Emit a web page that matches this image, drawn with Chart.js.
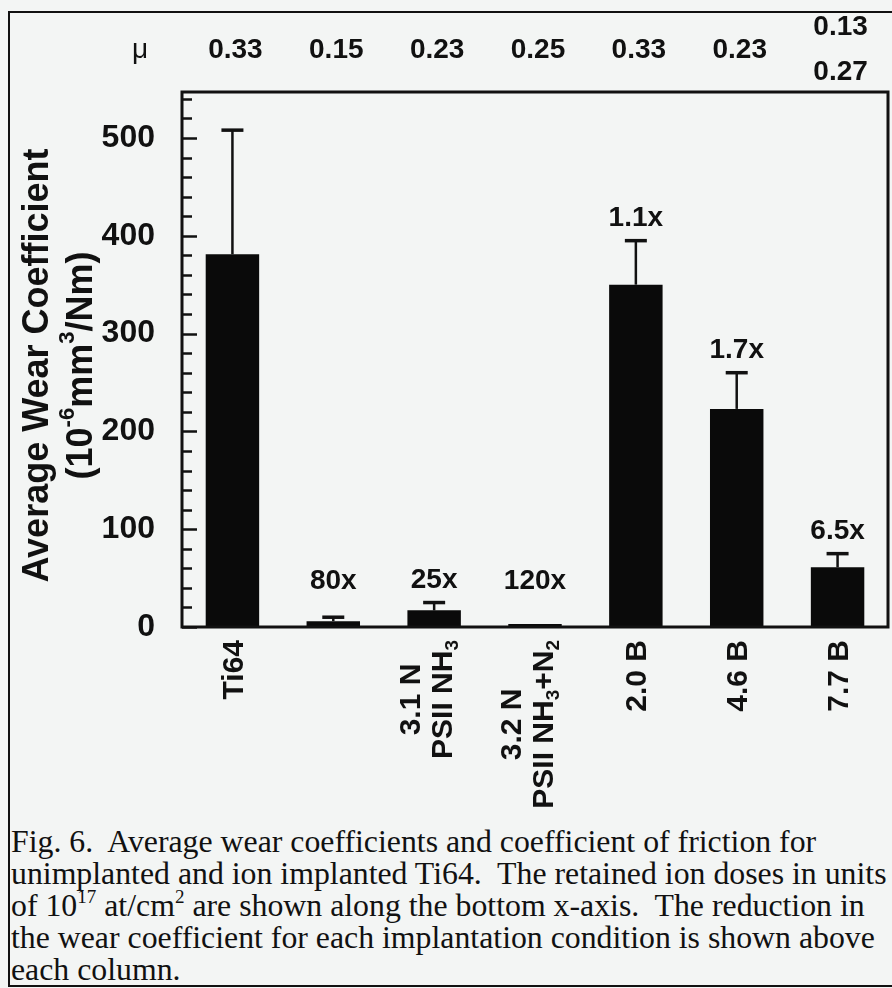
<!DOCTYPE html>
<html>
<head>
<meta charset="utf-8">
<script src="https://cdn.jsdelivr.net/npm/chart.js@4.4.1/dist/chart.umd.min.js"></script>
<style>
  body { margin: 0; background: #f3f5f4; width: 892px; height: 988px; overflow: hidden; position: relative; }
  #box { position: absolute; left: 8px; top: 11px; width: 900px; height: 972px; border: 2px solid #111; border-right: none; }
  #chart { position: absolute; left: 0; top: 0; }
  #caption { position: absolute; left: 11px; top: 826px; font-family: "Liberation Serif", serif; font-size: 31.8px; line-height: 32px; color: #111; white-space: pre; }
  #caption sup { font-size: 0.6em; line-height: 0; vertical-align: 0.7em; }
</style>
</head>
<body>
<div id="box"></div>
<canvas id="chart" width="892" height="815"></canvas>
<div id="caption">Fig. 6.  Average wear coefficients and coefficient of friction for
unimplanted and ion implanted Ti64.  The retained ion doses in units
of 10<sup>17</sup> at/cm<sup>2</sup> are shown along the bottom x-axis.  The reduction in
the wear coefficient for each implantation condition is shown above
each column.</div>
<script>
// bottom labels, one entry per column, lines stacked; _{..} = subscript
const categoryLines = [
  ["Ti64"],
  [""],
  ["3.1 N", "PSII NH_{3}"],
  ["3.2 N", "PSII NH_{3}+N_{2}"],
  ["2.0 B"],
  ["4.6 B"],
  ["7.7 B"],
];
const wearValues = [381, 6, 17, 3, 350, 223, 61];
const errorTops = [508, 10, 25, null, 395, 260, 75];
const reductionLabels = ["", "80x", "25x", "120x", "1.1x", "1.7x", "6.5x"];
const frictionValues = [[0.33], [0.15], [0.23], [0.25], [0.33], [0.23], [0.13, 0.27]];
const yTitleLines = ["Average Wear Coefficient", "(10^{-6}mm^{3}/Nm)"];

const SANS = '"Liberation Sans", Arial, sans-serif';
const INK = "#111";

// split "NH_{3}" / "10^{-6}" into runs
function splitRuns(str) {
  const runs = [];
  const re = /([_^])\{([^}]*)\}/g;
  let last = 0;
  let m;
  while ((m = re.exec(str)) !== null) {
    if (m.index > last) runs.push({ text: str.slice(last, m.index), shift: 0 });
    runs.push({ text: m[2], shift: m[1] === "_" ? 1 : -1 });
    last = re.lastIndex;
  }
  if (last < str.length) runs.push({ text: str.slice(last), shift: 0 });
  return runs;
}

function runFont(size, shift) {
  return "bold " + (shift ? Math.round(size * 0.62) : size) + "px " + SANS;
}

function richWidth(ctx, str, size) {
  let w = 0;
  for (const r of splitRuns(str)) {
    ctx.font = runFont(size, r.shift);
    w += ctx.measureText(r.text).width;
  }
  return w;
}

// draws centred on (x, y) in the current transform
function drawRich(ctx, str, x, y, size) {
  const runs = splitRuns(str);
  let cx = x - richWidth(ctx, str, size) / 2;
  ctx.textAlign = "left";
  ctx.textBaseline = "middle";
  for (const r of runs) {
    ctx.font = runFont(size, r.shift);
    const dy = r.shift === 1 ? size * 0.3 : r.shift === -1 ? -size * 0.38 : 0;
    ctx.fillText(r.text, cx, y + dy);
    cx += ctx.measureText(r.text).width;
  }
}

const figurePlugin = {
  id: "figure",
  afterDatasetsDraw(chart) {
    const { ctx, chartArea: a } = chart;
    const x = chart.scales.x;
    const y = chart.scales.y;
    const bars = chart.getDatasetMeta(0).data;
    ctx.save();
    ctx.fillStyle = INK;
    ctx.strokeStyle = INK;

    // error bars
    ctx.lineWidth = 2.5;
    errorTops.forEach((top, i) => {
      if (top == null) return;
      const bx = bars[i].x;
      const yTop = y.getPixelForValue(top);
      ctx.beginPath();
      ctx.moveTo(bx, bars[i].y);
      ctx.lineTo(bx, yTop);
      ctx.stroke();
      ctx.lineWidth = 3.5;
      ctx.beginPath();
      ctx.moveTo(bx - 11, yTop);
      ctx.lineTo(bx + 11, yTop);
      ctx.stroke();
      ctx.lineWidth = 2.5;
    });

    // frame
    ctx.lineWidth = 3;
    ctx.strokeRect(a.left, a.top, a.right - a.left, a.bottom - a.top);

    // inward ticks on the y axis
    ctx.lineWidth = 2.5;
    for (let v = 0; v <= y.max; v += 20) {
      const py = Math.round(y.getPixelForValue(v)) + 0.5;
      const len = v % 100 === 0 ? 15 : 10;
      ctx.beginPath();
      ctx.moveTo(a.left, py);
      ctx.lineTo(a.left + len, py);
      ctx.stroke();
    }

    // reduction factors above the columns
    ctx.font = "bold 28px " + SANS;
    ctx.textAlign = "center";
    ctx.textBaseline = "middle";
    reductionLabels.forEach((lab, i) => {
      if (!lab) return;
      const top = Math.max(errorTops[i] == null ? wearValues[i] : errorTops[i], 24);
      ctx.fillText(lab, bars[i].x, y.getPixelForValue(top) - 22);
    });

    // friction row
    const rowY = a.top - 42;
    ctx.font = "28px " + SANS;
    ctx.fillText("\u03bc", a.left - 42, rowY);
    ctx.font = "bold 28px " + SANS;
    frictionValues.forEach((vals, i) => {
      const cx = x.getPixelForValue(i) + 3;
      vals.forEach((v, j) => {
        const dy = (j - (vals.length - 1) / 2) * 45;
        ctx.fillText(v.toFixed(2), cx, rowY + dy);
      });
    });

    // rotated category labels under the axis, lines centred on each other
    const size = 30;
    categoryLines.forEach((lines, i) => {
      const w = Math.max(...lines.map((l) => richWidth(ctx, l, size)));
      if (!w) return;
      const shift = lines.length > 1 ? -6 : 2;
      ctx.save();
      ctx.translate(x.getPixelForValue(i) + shift, a.bottom + 13);
      ctx.rotate(-Math.PI / 2);
      lines.forEach((l, j) => {
        const dy = (j - (lines.length - 1) / 2) * 32;
        drawRich(ctx, l, -w / 2, dy, size);
      });
      ctx.restore();
    });

    // y axis title
    const midY = (a.top + a.bottom) / 2;
    yTitleLines.forEach((l, j) => {
      ctx.save();
      ctx.translate(a.left - 144 + j * 44, midY + 6);
      ctx.rotate(-Math.PI / 2);
      drawRich(ctx, l, 0, 0, 36);
      ctx.restore();
    });

    ctx.restore();
  },
};

new Chart(document.getElementById("chart"), {
  type: "bar",
  data: {
    labels: categoryLines.map((l) => l.join(" ")),
    datasets: [
      {
        data: wearValues,
        backgroundColor: "#0a0a0a",
        borderWidth: 0,
        barPercentage: 0.53,
        categoryPercentage: 1,
      },
    ],
  },
  options: {
    responsive: false,
    animation: false,
    devicePixelRatio: 1,
    layout: { padding: { top: 92, right: 4, bottom: 0, left: 0 } },
    scales: {
      x: {
        grid: { display: false, drawTicks: false },
        border: { display: false },
        ticks: { display: false },
        afterFit: (s) => { s.height = 188; },
      },
      y: {
        min: 0,
        max: 547,
        grid: { display: false, drawTicks: false },
        border: { display: false },
        ticks: {
          stepSize: 100,
          padding: 27,
          color: INK,
          font: { family: SANS, weight: "bold", size: 32 },
        },
        afterBuildTicks: (s) => { s.ticks = s.ticks.filter((t) => t.value % 100 === 0); },
        afterFit: (s) => { s.width = 182; },
      },
    },
    plugins: {
      legend: { display: false },
      tooltip: { enabled: false },
    },
  },
  plugins: [figurePlugin],
});
</script>
</body>
</html>
